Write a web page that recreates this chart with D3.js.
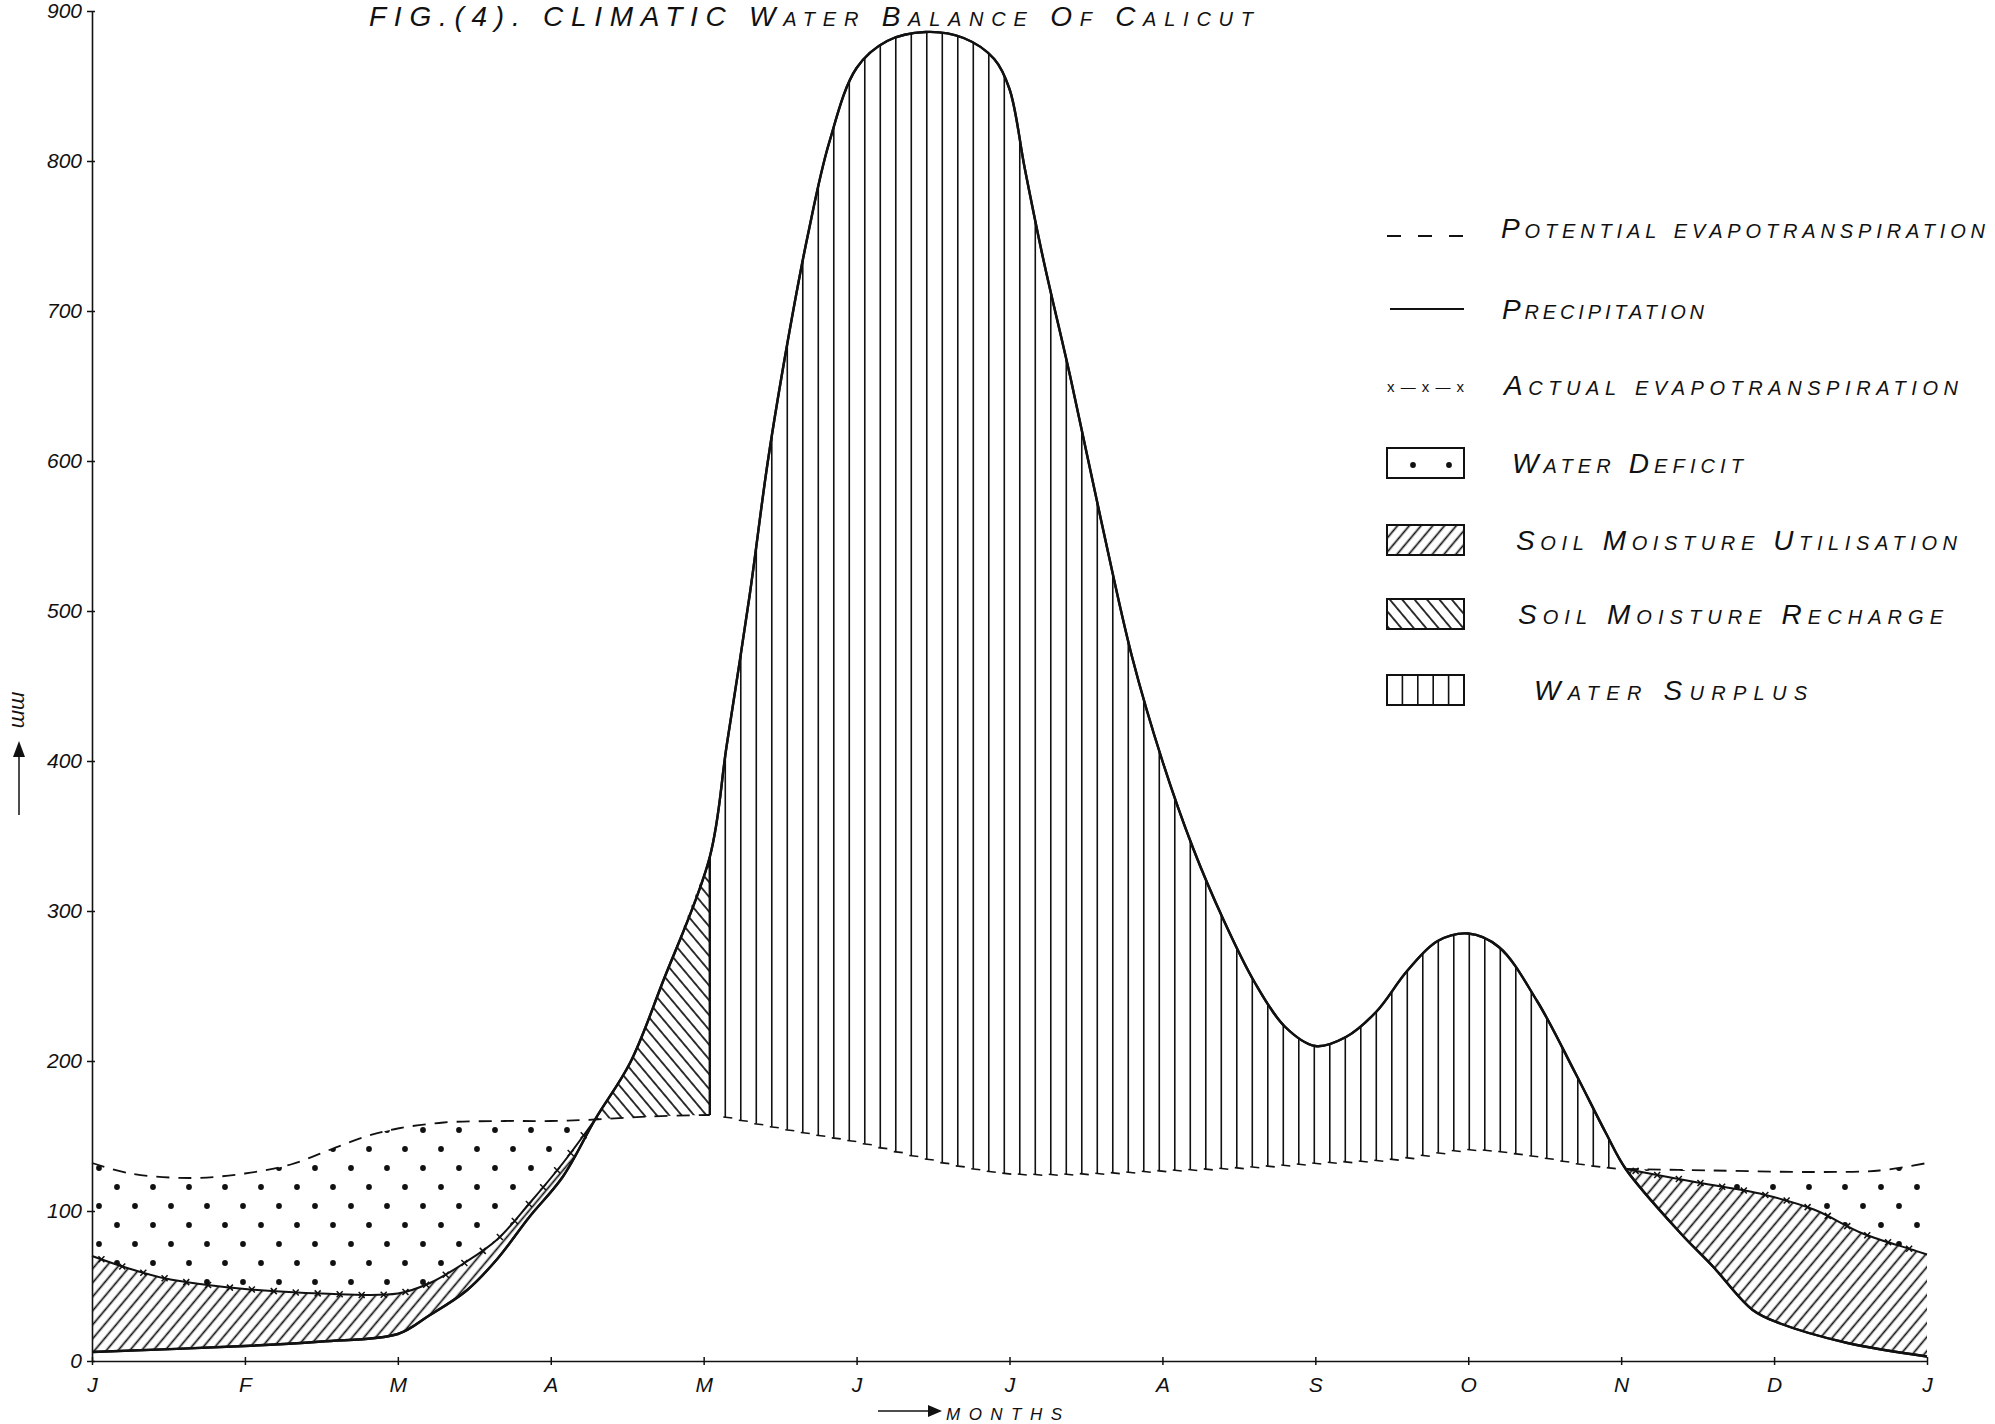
<!DOCTYPE html>
<html>
<head>
<meta charset="utf-8">
<script src="https://cdn.jsdelivr.net/npm/d3@7"></script>
<style>
  body { margin: 0; background: #fff; }
  text { font-family: "Liberation Sans", "DejaVu Sans", sans-serif; fill: #111; }
</style>
</head>
<body>
<div id="chart"></div>
<script>
// values: [month index, mm]  (0 = J ... 12 = next J)
const monthLabels = ["J","F","M","A","M","J","J","A","S","O","N","D","J"];
const yTicks = [0,100,200,300,400,500,600,700,800,900];

const precipitation = [
  [0,6],[1,10],[1.5,13],[2,18],[2.2,30],[2.45,47],[2.65,68],[2.86,96],[3.08,123],[3.29,161],
  [3.52,199],[3.73,252],[4.04,336],[4.15,410],[4.3,510],[4.42,600],[4.55,680],[4.68,750],
  [4.82,812],[5,862],[5.2,880],[5.45,886],[5.7,882],[5.9,868],[6,848],[6.1,795],[6.22,735],
  [6.4,655],[6.6,560],[6.8,470],[7,400],[7.2,342],[7.4,294],[7.6,253],[7.8,223],[8,210],
  [8.2,216],[8.4,233],[8.6,260],[8.8,280],[9,285],[9.2,276],[9.45,240],[9.7,192],[9.9,152],
  [10.03,128],[10.39,85],[10.6,63],[10.86,34],[11.04,25],[11.48,12],[12,3]
];
const potentialET = [
  [0,132],[0.25,125],[0.65,122],[1,125],[1.3,131],[1.56,141],[1.8,150],[2,155],[2.3,159],
  [2.7,160],[3,160],[3.29,161],[3.64,163],[4.04,164],[4.4,157],[4.72,151],[5,146],[5.4,136],
  [5.72,129],[6,125],[6.5,125],[7,127],[7.5,129],[8,132],[8.55,135],[9,141],[9.4,137],
  [9.75,131],[10.03,128],[10.6,127],[11.26,126],[11.69,127],[12,132]
];
const actualETEarly = [
  [0,70],[0.23,62],[0.48,55],[0.73,51],[1,48],[1.5,45],[2,45],[2.21,52],[2.43,65],
  [2.65,81],[2.86,105],[3.08,132],[3.29,161]
];
const actualETLate = [
  [10.03,128],[10.5,119],[10.93,111],[11.26,101],[11.58,85],[11.91,74],[12,71]
];
// where the curves meet / where recharge ends
const rechargeStart = 3.29, rechargeEnd = 4.04, surplusEnd = 10.03;

const legendLabels = [
  "Potential evapotranspiration", "Precipitation", "Actual evapotranspiration",
  "Water Deficit", "Soil Moisture Utilisation", "Soil Moisture Recharge", "Water Surplus"
];
const legendKinds = ["dash","line","aet","deficit","util","recharge","surplus"];

// layout
const W = 1995, H = 1424;
const legendRowY = [228, 309, 385, 463, 540, 614, 690];
const legendTextX = [1501, 1502, 1504, 1512, 1516, 1518, 1534];
const legendTextW = [484, 202, 454, 231, 441, 425, 273];

const svg = d3.select("#chart").append("svg")
    .attr("width", W).attr("height", H);

const x = d3.scaleLinear().domain([0,12]).range([92,1927]);
const y = d3.scaleLinear().domain([0,900]).range([1361,11]);

const line = d3.line()
    .x(d => x(d[0]))
    .y(d => y(d[1]))
    .curve(d3.curveCatmullRom.alpha(0.5));

const seg = (arr, a, b) => arr.filter(d => d[0] >= a - 1e-9 && d[0] <= b + 1e-9);

function band(upper, lower){
    const a = line(upper);
    const b = line(lower.slice().reverse());
    return a + "L" + b.slice(1) + "Z";
}

// patterns
const defs = svg.append("defs");

const dots = defs.append("pattern").attr("id","dots")
    .attr("patternUnits","userSpaceOnUse").attr("width",36).attr("height",38);
dots.append("circle").attr("cx",9).attr("cy",9).attr("r",2.9).attr("fill","#111");
dots.append("circle").attr("cx",27).attr("cy",28).attr("r",2.9).attr("fill","#111");

function hatch(id, angle, gap){
    const p = defs.append("pattern").attr("id",id)
        .attr("patternUnits","userSpaceOnUse")
        .attr("width",gap).attr("height",gap)
        .attr("patternTransform","rotate(" + angle + ")");
    p.append("line").attr("x1",gap/2).attr("x2",gap/2).attr("y1",0).attr("y2",gap)
        .attr("stroke","#111").attr("stroke-width",1.7);
}
hatch("util", 40, 9);
hatch("recharge", -40, 9.5);

const plot = svg.append("g");

// water deficit
[[seg(potentialET,0,rechargeStart), actualETEarly],
 [seg(potentialET,surplusEnd,12), actualETLate]].forEach(([u,l]) => {
    plot.append("path").attr("d", band(u,l)).attr("fill","url(#dots)");
});

// soil moisture utilisation
[[actualETEarly, seg(precipitation,0,rechargeStart)],
 [actualETLate, seg(precipitation,surplusEnd,12)]].forEach(([u,l]) => {
    plot.append("path").attr("d", band(u,l)).attr("fill","url(#util)");
});

// soil moisture recharge
plot.append("path")
    .attr("d", band(seg(precipitation,rechargeStart,rechargeEnd), seg(potentialET,rechargeStart,rechargeEnd)))
    .attr("fill","url(#recharge)");

// main lines
const precipPath = plot.append("path")
    .attr("d", line(precipitation))
    .attr("fill","none").attr("stroke","#111").attr("stroke-width",2.4);

const petHidden = plot.append("path")
    .attr("d", line(potentialET))
    .attr("fill","none").attr("stroke","none");

function yAt(node, px){
    const total = node.getTotalLength();
    let lo = 0, hi = total;
    for (let i = 0; i < 40; i++){
        const mid = (lo + hi) / 2;
        if (node.getPointAtLength(mid).x < px) lo = mid; else hi = mid;
    }
    return node.getPointAtLength((lo + hi) / 2).y;
}

// water surplus: vertical strokes with little feet
const surplusG = plot.append("g").attr("stroke","#111").attr("stroke-width",1.6);
const sx0 = x(rechargeEnd), sx1 = x(surplusEnd);
for (let px = sx0 + 15.5; px < sx1 - 3; px += 15.5){
    const yTop = yAt(precipPath.node(), px);
    const yBot = yAt(petHidden.node(), px);
    if (yBot - yTop < 2) continue;
    surplusG.append("line").attr("x1",px).attr("x2",px).attr("y1",yTop).attr("y2",yBot);
    surplusG.append("line").attr("x1",px - 2).attr("x2",px + 7).attr("y1",yBot).attr("y2",yBot + 1);
}

// recharge / surplus boundary
plot.append("line")
    .attr("x1", x(rechargeEnd)).attr("x2", x(rechargeEnd))
    .attr("y1", y(336)).attr("y2", y(164))
    .attr("stroke","#111").attr("stroke-width",2.4);

// potential evapotranspiration (dashed)
[seg(potentialET,0,rechargeEnd), seg(potentialET,surplusEnd,12)].forEach(s => {
    plot.append("path").attr("d", line(s))
        .attr("fill","none").attr("stroke","#111").attr("stroke-width",1.8)
        .attr("stroke-dasharray","13,9");
});

// actual evapotranspiration x-x-x
[actualETEarly, actualETLate].forEach(s => {
    const p = plot.append("path").attr("d", line(s))
        .attr("fill","none").attr("stroke","#111").attr("stroke-width",2);
    const node = p.node(), L = node.getTotalLength();
    for (let l = 10; l < L - 4; l += 22){
        const pt = node.getPointAtLength(l);
        plot.append("path")
            .attr("d", `M${pt.x-3},${pt.y-3}L${pt.x+3},${pt.y+3}M${pt.x-3},${pt.y+3}L${pt.x+3},${pt.y-3}`)
            .attr("stroke","#111").attr("stroke-width",1.5);
    }
});

// precipitation on top
plot.append("path")
    .attr("d", line(precipitation))
    .attr("fill","none").attr("stroke","#111").attr("stroke-width",2.4);

// axes
const xAxisG = svg.append("g")
    .attr("transform","translate(0," + y(0) + ")")
    .call(d3.axisBottom(x).tickValues(d3.range(13))
        .tickFormat(i => monthLabels[i])
        .tickSizeInner(4).tickSizeOuter(0).tickPadding(12));
xAxisG.selectAll(".tick line").attr("y1",-4).attr("y2",4);

const yAxisG = svg.append("g")
    .attr("transform","translate(" + x(0) + ",0)")
    .call(d3.axisLeft(y).tickValues(yTicks)
        .tickSizeInner(5).tickSizeOuter(0).tickPadding(5));
yAxisG.selectAll(".tick line").attr("x1",-5).attr("x2",3);

[xAxisG, yAxisG].forEach(g => {
    g.select(".domain").attr("stroke","#111").attr("stroke-width",1.6);
    g.selectAll(".tick line").attr("stroke","#111").attr("stroke-width",1.5);
    g.selectAll(".tick text")
        .style("font-family","'Liberation Sans', sans-serif")
        .style("font-style","italic")
        .attr("font-size",21).attr("fill","#111");
});

// title
svg.append("text")
    .attr("x",369).attr("y",26)
    .attr("textLength",884).attr("lengthAdjust","spacing")
    .style("font-variant","small-caps").style("font-style","italic")
    .attr("font-size",28)
    .text("FIG.(4). CLIMATIC Water Balance Of Calicut");

// y label
svg.append("text")
    .attr("transform","translate(19,710) rotate(90)")
    .attr("text-anchor","middle").attr("dominant-baseline","central")
    .attr("font-size",22).style("font-style","italic")
    .text("mm");
svg.append("line").attr("x1",19).attr("x2",19).attr("y1",815).attr("y2",750)
    .attr("stroke","#111").attr("stroke-width",1.5);
svg.append("path").attr("d","M13,757L19,741L25,757Z").attr("fill","#111");

// x label
svg.append("line").attr("x1",878).attr("x2",932).attr("y1",1411).attr("y2",1411)
    .attr("stroke","#111").attr("stroke-width",1.5);
svg.append("path").attr("d","M928,1405L942,1411L928,1417Z").attr("fill","#111");
svg.append("text")
    .attr("x",946).attr("y",1411).attr("dominant-baseline","central")
    .attr("textLength",116).attr("lengthAdjust","spacing")
    .style("font-variant","small-caps").style("font-style","italic")
    .attr("font-size",24)
    .text("months");

// legend
const legend = svg.append("g");
const bx0 = 1387, bx1 = 1464;
legendKinds.forEach((kind, i) => {
    const cy = legendRowY[i];
    if (kind === "dash"){
        legend.append("line").attr("x1",bx0).attr("x2",bx1).attr("y1",cy+8).attr("y2",cy+8)
            .attr("stroke","#111").attr("stroke-width",1.8).attr("stroke-dasharray","14,17");
    } else if (kind === "line"){
        legend.append("line").attr("x1",bx0+3).attr("x2",bx1).attr("y1",cy).attr("y2",cy)
            .attr("stroke","#111").attr("stroke-width",1.8);
    } else if (kind === "aet"){
        legend.append("text").attr("x",bx0).attr("y",cy+1)
            .attr("dominant-baseline","central").attr("font-size",15)
            .attr("textLength",bx1 - bx0).attr("lengthAdjust","spacing")
            .text("x—x—x");
    } else {
        const fill = kind === "deficit" ? "url(#dots)" : kind === "util" ? "url(#util)"
            : kind === "recharge" ? "url(#recharge)" : "#fff";
        legend.append("rect").attr("x",bx0).attr("y",cy-15).attr("width",bx1-bx0).attr("height",30)
            .attr("fill",fill).attr("stroke","#111").attr("stroke-width",2);
        if (kind === "surplus"){
            d3.range(1,5).forEach(k => {
                const lx = bx0 + k * (bx1 - bx0) / 5;
                legend.append("line").attr("x1",lx).attr("x2",lx).attr("y1",cy-15).attr("y2",cy+15)
                    .attr("stroke","#111").attr("stroke-width",1.6);
            });
        }
    }
    legend.append("text")
        .attr("x",legendTextX[i]).attr("y",cy)
        .attr("dominant-baseline","central")
        .attr("textLength",legendTextW[i]).attr("lengthAdjust","spacing")
        .style("font-variant","small-caps").style("font-style","italic")
        .attr("font-size",28)
        .text(legendLabels[i]);
});
</script>
</body>
</html>
